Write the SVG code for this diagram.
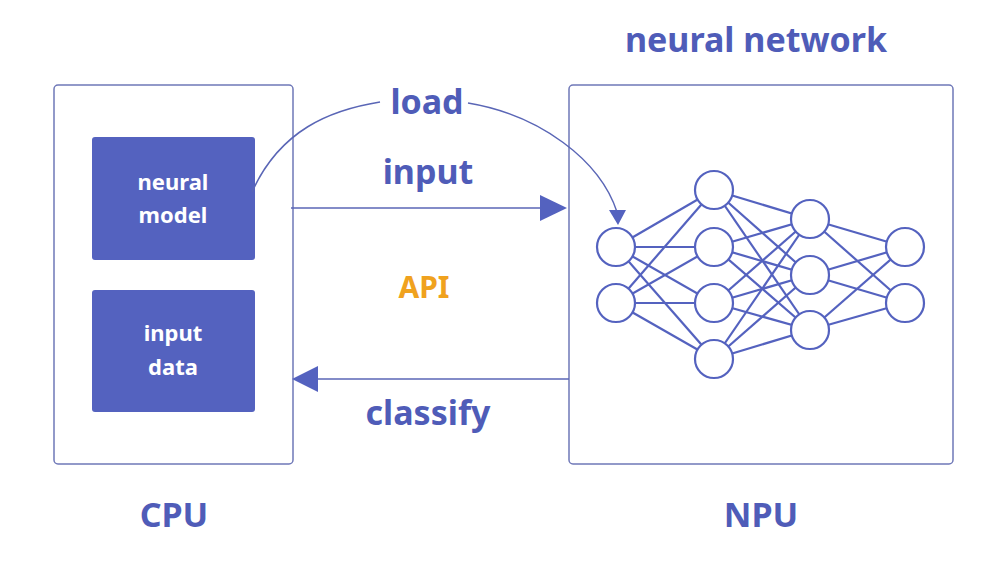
<svg xmlns="http://www.w3.org/2000/svg" width="1004" height="572" viewBox="0 0 1004 572">
<style>
.frame{fill:#fff;stroke:#6f78b8;stroke-width:1.5}
.blk{fill:#5462bf}
.n{fill:#fff;stroke:#5462bf;stroke-width:2.2}
.e{stroke:#5462bf;stroke-width:2.2}
.c{stroke:#5a66b6;stroke-width:1.5;fill:none}
text{font-family:"Noto Sans","DejaVu Sans",sans-serif;font-weight:bold}
.lbl{fill:#4f5cb8;font-size:34px;text-anchor:middle}
.w{fill:#fff;font-size:22px;text-anchor:middle}
</style>
<rect width="1004" height="572" fill="#fff"/>
<g id="cpu"><rect class="frame" x="54" y="85" width="239" height="379" rx="4"/><text class="lbl" x="174" y="527">CPU</text></g>
<g id="npu"><rect class="frame" x="569" y="85" width="384" height="379" rx="4"/><text class="lbl" x="761" y="527">NPU</text><text class="lbl" x="756" y="52">neural network</text></g>
<g id="model"><rect class="blk" x="92" y="137" width="163" height="123" rx="3"/><text class="w" x="173" y="190">neural</text><text class="w" x="173" y="223">model</text></g>
<g id="data"><rect class="blk" x="92" y="290" width="163" height="122" rx="3"/><text class="w" x="173" y="341">input</text><text class="w" x="173" y="375">data</text></g>
<g id="connectors">
<path class="c" d="M252,192 C280,130 330,110 380,102"/>
<path class="c" d="M468,103 C540,115 600,160 617,212"/>
<polygon fill="#5462bf" points="609,210 626,210 618,225"/>
<line class="c" x1="291" y1="208" x2="542" y2="208"/>
<polygon fill="#5462bf" points="540,195 567,208 540,221"/>
<line class="c" x1="318" y1="379" x2="569" y2="379"/>
<polygon fill="#5462bf" points="318,366 292,379 318,392"/>
<text class="lbl" x="427" y="114">load</text>
<text class="lbl" x="428" y="184">input</text>
<text class="lbl" x="428" y="425">classify</text>
<text x="424" y="298" style="fill:#f0a21e;font-size:30px;text-anchor:middle">API</text>
</g>
<g id="network">
<g class="e">
<line x1="616" y1="247" x2="714" y2="190"/><line x1="616" y1="247" x2="714" y2="247"/><line x1="616" y1="247" x2="714" y2="303"/><line x1="616" y1="247" x2="714" y2="359"/>
<line x1="616" y1="303" x2="714" y2="190"/><line x1="616" y1="303" x2="714" y2="247"/><line x1="616" y1="303" x2="714" y2="303"/><line x1="616" y1="303" x2="714" y2="359"/>
<line x1="714" y1="190" x2="810" y2="219"/><line x1="714" y1="190" x2="810" y2="275"/><line x1="714" y1="190" x2="810" y2="330"/>
<line x1="714" y1="247" x2="810" y2="219"/><line x1="714" y1="247" x2="810" y2="275"/><line x1="714" y1="247" x2="810" y2="330"/>
<line x1="714" y1="303" x2="810" y2="219"/><line x1="714" y1="303" x2="810" y2="275"/><line x1="714" y1="303" x2="810" y2="330"/>
<line x1="714" y1="359" x2="810" y2="219"/><line x1="714" y1="359" x2="810" y2="275"/><line x1="714" y1="359" x2="810" y2="330"/>
<line x1="810" y1="219" x2="905" y2="247"/><line x1="810" y1="219" x2="905" y2="303"/>
<line x1="810" y1="275" x2="905" y2="247"/><line x1="810" y1="275" x2="905" y2="303"/>
<line x1="810" y1="330" x2="905" y2="247"/><line x1="810" y1="330" x2="905" y2="303"/>
</g>
<circle class="n" cx="616" cy="247" r="19"/><circle class="n" cx="616" cy="303" r="19"/>
<circle class="n" cx="714" cy="190" r="19"/><circle class="n" cx="714" cy="247" r="19"/><circle class="n" cx="714" cy="303" r="19"/><circle class="n" cx="714" cy="359" r="19"/>
<circle class="n" cx="810" cy="219" r="19"/><circle class="n" cx="810" cy="275" r="19"/><circle class="n" cx="810" cy="330" r="19"/>
<circle class="n" cx="905" cy="247" r="19"/><circle class="n" cx="905" cy="303" r="19"/>
</g>
</svg>
